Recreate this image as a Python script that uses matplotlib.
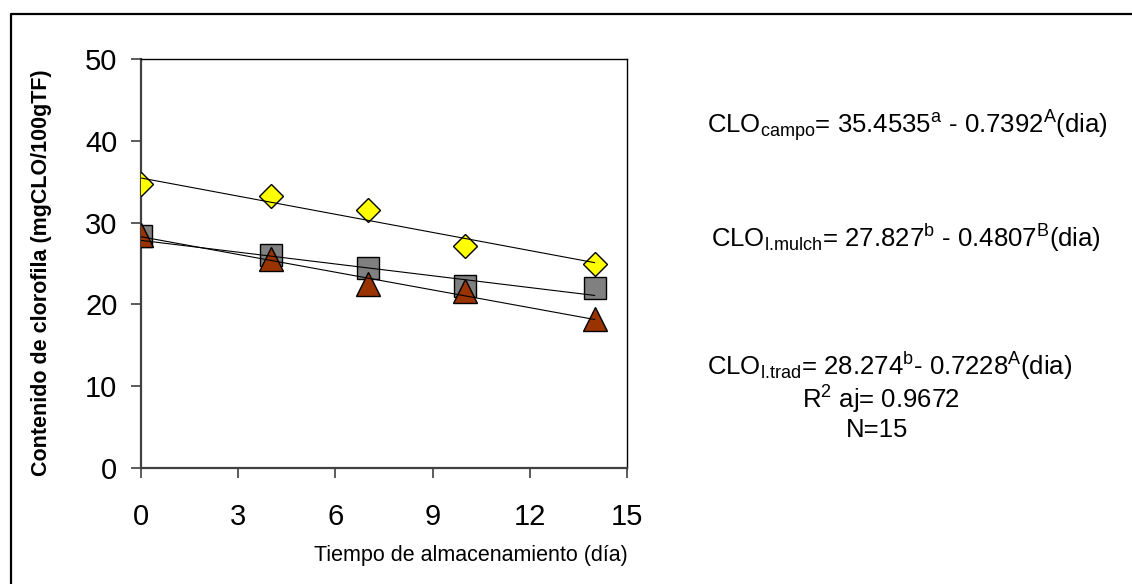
import matplotlib
matplotlib.use("Agg")
import matplotlib.pyplot as plt
import numpy as np
from matplotlib.lines import Line2D

plt.rcParams['font.family'] = ['Liberation Sans', 'DejaVu Sans']
plt.rcParams['mathtext.fontset'] = 'custom'
plt.rcParams['mathtext.rm'] = 'Liberation Sans'
plt.rcParams['mathtext.it'] = 'Liberation Sans:italic'
plt.rcParams['mathtext.bf'] = 'Liberation Sans:bold'

# ---- data ----
dias = [0, 4, 7, 10, 14]
campo = [34.7, 33.3, 31.5, 27.1, 25.0]
mulch = [28.4, 26.0, 24.5, 22.3, 22.0]
trad = [28.5, 25.5, 22.5, 21.6, 18.2]

# regression coefficients (intercept, slope)
coef_campo = (35.4535, -0.7392)
coef_mulch = (27.827, -0.4807)
coef_trad = (28.274, -0.7228)

x_ticks = [0, 3, 6, 9, 12, 15]
y_ticks = [0, 10, 20, 30, 40, 50]

W, H = 1132, 584
fig = plt.figure(figsize=(W / 100, H / 100), dpi=100)
ax = fig.add_axes([141 / W, 1 - 468 / H, (627 - 141) / W, (468 - 59) / H])

ax.plot(dias, campo, linestyle='none', marker='D', ms=12.5, mfc='#FFFF00',
        mec='black', mew=1.0, zorder=3)
ax.plot(dias, mulch, linestyle='none', marker='s', ms=16, mfc='#808080',
        mec='black', mew=1.0, zorder=4)
ax.plot(dias, trad, linestyle='none', marker='^', ms=17, mfc='#993300',
        mec='black', mew=1.0, zorder=5)

xl = np.array([dias[0], dias[-1]])
for b0, b1 in (coef_campo, coef_mulch, coef_trad):
    ax.plot(xl, b0 + b1 * xl, color='black', lw=0.8, zorder=6)

ax.set_xlim(0, 15)
ax.set_ylim(0, 50)
ax.set_xticks(x_ticks)
ax.set_yticks(y_ticks)
ax.tick_params(axis='x', direction='out', length=7, width=1.2, color='#404040',
               labelsize=21, pad=18)
ax.tick_params(axis='y', direction='out', length=7, width=1.2, color='#404040',
               labelsize=21, pad=10)
for s in ('left', 'bottom'):
    ax.spines[s].set_color('#404040')
    ax.spines[s].set_linewidth(1.6)
for s in ('top', 'right'):
    ax.spines[s].set_color('black')
    ax.spines[s].set_linewidth(1.0)

fig.text(42 / W, 1 - 273 / H, 'Contenido de clorofila (mgCLO/100gTF)',
         rotation=90, ha='center', va='center', fontsize=15.5, fontweight='bold')
fig.text(471 / W, 1 - 555 / H, 'Tiempo de almacenamiento (día)',
         ha='center', va='center', fontsize=15.5)

fs = 18.5
fig.text(907 / W, 1 - 133 / H,
         r'CLO$_{\mathrm{campo}}$= 35.4535$^{\mathrm{a}}$ - 0.7392$^{\mathrm{A}}$(dia)',
         ha='center', va='baseline', fontsize=fs)
fig.text(906 / W, 1 - 247 / H,
         r'CLO$_{\mathrm{l.\!mulch}}$= 27.827$^{\mathrm{b}}$ - 0.4807$^{\mathrm{B}}$(dia)',
         ha='center', va='baseline', fontsize=fs)
fig.text(890 / W, 1 - 375 / H,
         r'CLO$_{\mathrm{l.\!trad}}$= 28.274$^{\mathrm{b}}$- 0.7228$^{\mathrm{A}}$(dia)',
         ha='center', va='baseline', fontsize=fs)
fig.text(881 / W, 1 - 409 / H, r'R$^{\mathrm{2}}$ aj= 0.9672',
         ha='center', va='baseline', fontsize=fs)
fig.text(877 / W, 1 - 437 / H, 'N=15',
         ha='center', va='baseline', fontsize=fs)

# outer frame (only left and top visible)
fig.add_artist(Line2D([10.5 / W, 10.5 / W, 1.01], [-0.01, 1 - 14 / H, 1 - 14 / H],
                      transform=fig.transFigure, color='black', lw=1.6))

fig.savefig('out.png', dpi=100)
